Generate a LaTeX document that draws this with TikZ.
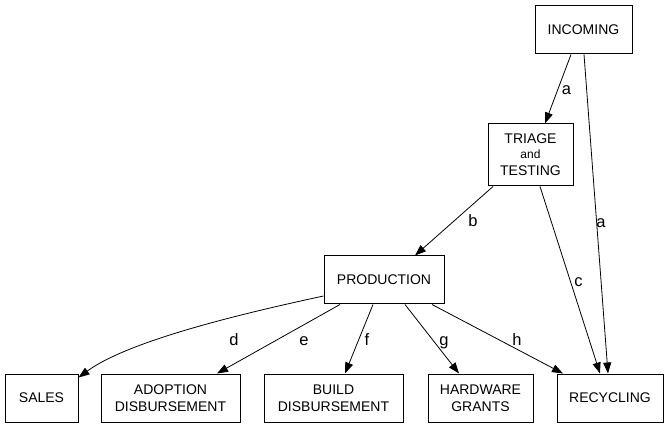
\documentclass[tikz,border=0pt]{standalone}
\usepackage{fontspec}
\setmainfont{Liberation Sans}
\usetikzlibrary{arrows.meta}
\begin{document}
\begin{tikzpicture}[x=1pt,y=-1pt,
  box/.style={draw,line width=1pt,rectangle,inner sep=0pt,align=center,
    font=\fontsize{14}{17}\selectfont,minimum height=48pt},
  conn/.style={line width=0.8pt,-{Triangle[length=11pt,width=8pt]}},
  lbl/.style={anchor=base,inner sep=0pt,font=\fontsize{16.5}{17}\selectfont}]
\useasboundingbox (0,0) rectangle (669,427);
\node[box,minimum width=97pt] (incoming) at (583.5,30) {INCOMING};
\node[box,minimum width=85pt,minimum height=62pt] (triage) at (530.5,155) {TRIAGE\\[-2pt]{\fontsize{12}{14}\selectfont and}\\TESTING};
\node[box,minimum width=120pt] (production) at (384,280) {PRODUCTION};
\node[box,minimum width=73pt] (sales) at (41.5,398) {SALES};
\node[box,minimum width=139pt] (adoption) at (170.5,398) {ADOPTION\\DISBURSEMENT};
\node[box,minimum width=139pt] (build) at (333.5,398) {BUILD\\DISBURSEMENT};
\node[box,minimum width=105pt] (hardware) at (480.5,398) {HARDWARE\\GRANTS};
\node[box,minimum width=106pt] (recycling) at (610,398) {RECYCLING};

\draw[conn] ([xshift=-12.5pt]incoming.south) -- ([xshift=14.5pt]triage.north);
\draw[conn] ([xshift=0.5pt]incoming.south) -- ([xshift=-2pt]recycling.north);
\draw[conn] ([xshift=9.5pt]triage.south) -- ([xshift=-10pt]recycling.north);
\draw[conn] ([xshift=-37.5pt]triage.south) -- ([xshift=31pt]production.north);
\draw[conn] ([yshift=-16pt]production.west) .. controls +(-74,16) and +(52,-38) .. ([yshift=-4pt]sales.north east);
\draw[conn] ([xshift=-44pt]production.south) -- ([xshift=46.5pt]adoption.north);
\draw[conn] ([xshift=-11pt]production.south) -- ([xshift=11.5pt]build.north);
\draw[conn] ([xshift=21pt]production.south) -- ([xshift=-21.5pt]hardware.north);
\draw[conn] ([xshift=48pt]production.south) -- ([xshift=-47pt]recycling.north);

\node[lbl] (la1) at (566.5,95) {a};
\node[lbl] (la2) at (601,228) {a};
\node[lbl] (lc) at (578.5,287) {c};
\node[lbl] (lb) at (473,227) {b};
\node[lbl] (ld) at (234,346) {d};
\node[lbl] (le) at (304,346) {e};
\node[lbl] (lf) at (367,345) {f};
\node[lbl] (lg) at (444,345) {g};
\node[lbl] (lh) at (517,345) {h};
\end{tikzpicture}
\end{document}
